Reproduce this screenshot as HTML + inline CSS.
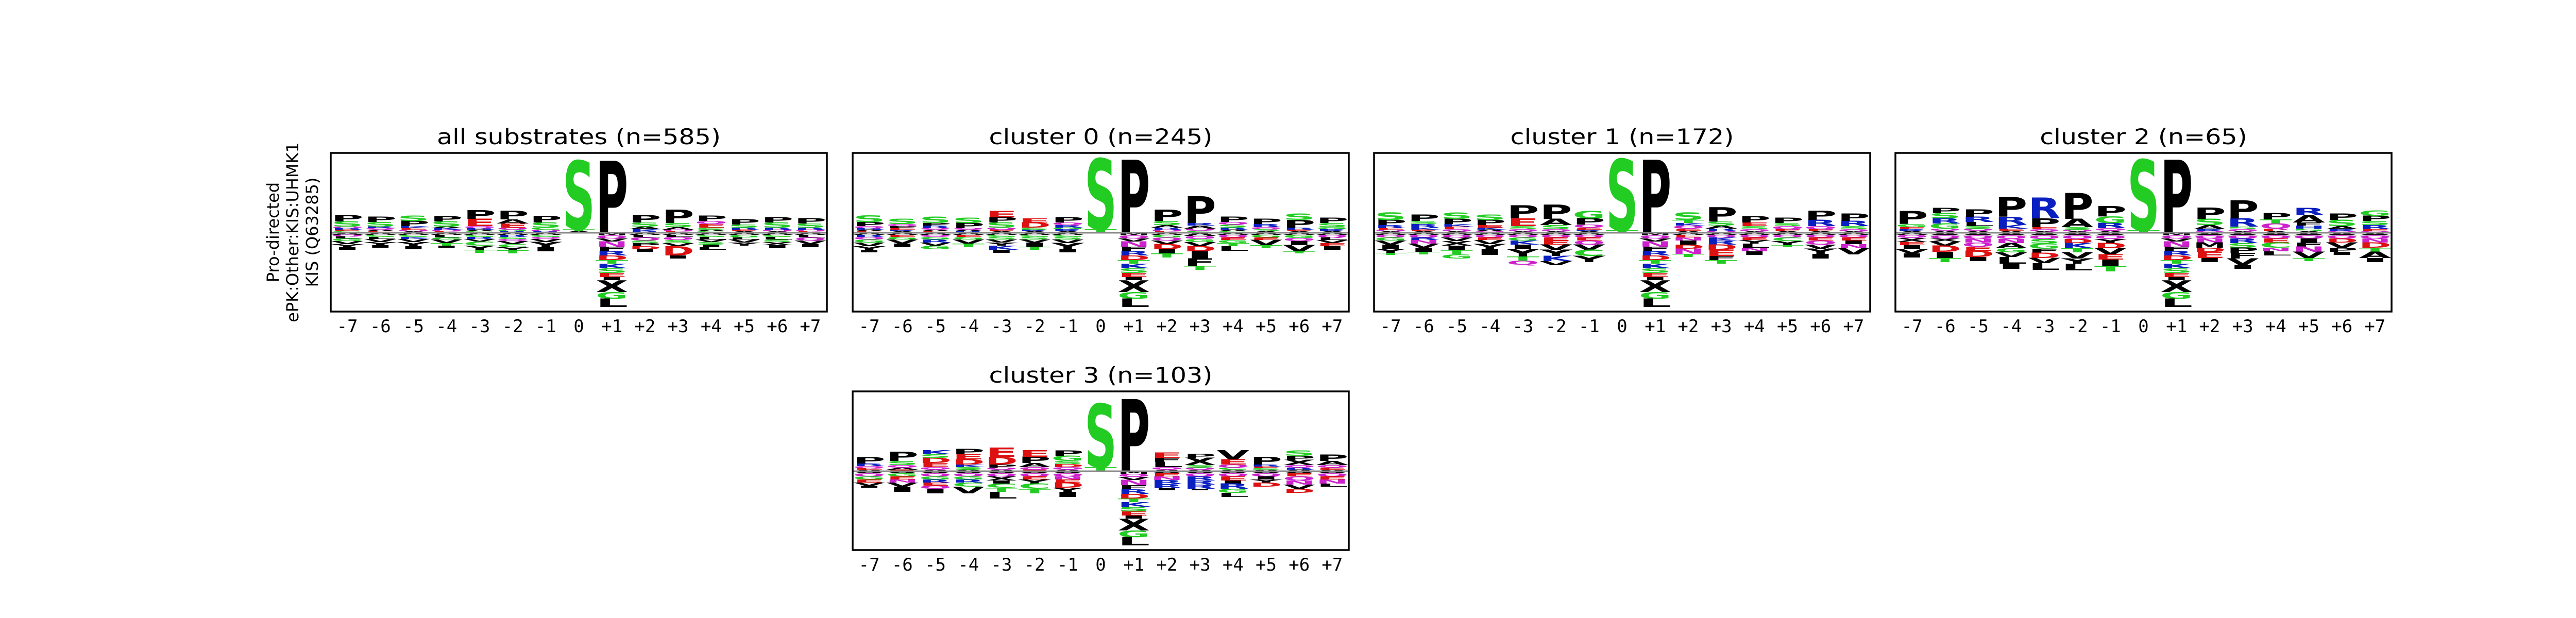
<!DOCTYPE html>
<html><head><meta charset="utf-8">
<style>
html,body{margin:0;padding:0;background:#fff;}
svg{display:block;}
</style></head>
<body>
<svg id="fig" xmlns="http://www.w3.org/2000/svg" width="5163" height="1200" viewBox="0 0 5163 1200">
<rect x="0" y="0" width="5163" height="1200" fill="#fff"/>
<g font-family="DejaVu Sans, Liberation Sans, sans-serif" font-size="32" text-anchor="middle" fill="#000">
<text transform="translate(541,451) rotate(-90)">Pro-directed</text>
<text transform="translate(579,451) rotate(-90)">ePK:Other:KIS:UHMK1</text>
<text transform="translate(617,451) rotate(-90)">KIS (Q63285)</text>
</g>
</svg>
<script>
// ---------- data ----------
const positions = ["-7","-6","-5","-4","-3","-2","-1","0","+1","+2","+3","+4","+5","+6","+7"];
const titles = ["all substrates (n=585)","cluster 0 (n=245)","cluster 1 (n=172)","cluster 2 (n=65)","cluster 3 (n=103)"];
// letter stacks: "LetterHeight" tokens, listed from the top downward; heights in centibits
const downPlus1 = "M5 Q6 V6 N10 F8 R9 D9 T7 K9 S9 E8 I6 X23 G13 L16";
const upAll = ["P12 S10 Q3 R3 E3 G3","P10 S9 R3 Q3 A3 E3","S10 P10 K4 E3 Q3 A3","P10 S10 A3 K3 Q3 E3","P17 E14 Q4 R3 A3 G3","P17 A8 E8 Q4 G3 R3","P13 S10 G4 Q3 R3","S133 T4 A3","P140","P14 S8 A5 K4 R3","P26 S8 A5 Q3 E3","P10 Q6 E7 S4 A3 G3","P10 S6 R4 E3 A3","P10 S10 R4 Q3 A3","P10 S8 R4 Q3 E3"];
const downAll = ["A4 Q3 L4 G5 V6 Y6 I5","A4 G4 L4 V6 Y6 I5","A4 G4 K4 V6 Y8 I6","A4 L5 G4 V7 T5 I4","A4 G4 R4 V5 C8 Y8 T6","A4 R4 G4 Q4 V6 C6 Y6 T6","A4 G4 Q4 V6 Y10 I8","",downPlus1,"A4 L5 Q6 S5 P6 D6 I5","A4 L4 Q6 S6 V6 D18 I6","A4 G4 L5 V5 S5 I5 L5","A4 G5 L4 V6 Y6","A4 G4 L5 S5 X6 I6","A4 L5 Q6 V7 I6"];
const upC0 = ["S13 P8 Q4 R3 A3 E3","S10 Q4 P4 E3 R3 A3","S12 P5 R5 Q3 A3 E3","S10 P10 Q3 A3 R3","E12 P10 S10 Q4 E3 A3","E8 D10 S4 R3 A3","P10 Q5 R5 G3 R4 A3","S137 T7","P142","P22 S8 A5 R4 Q3 E3","P52 R5 A6 Q4 S4","P10 Q5 S6 R4 A3 G3","P10 R6 Q4 S4 A3","S12 P15 R4 E3 A3","P10 S8 G4 R4 A3"];
const downC0 = ["A4 R4 Q5 G6 V7 Y8 I4","A4 E4 G5 V8 I7","A4 Q4 G5 R6 V6 G7","A4 E4 G5 V8 T7","A4 G4 S5 V6 Y6 K8 I6","A4 G4 S5 V6 I8 T6","A4 G4 S5 V7 Y12 I6","",downPlus1,"A4 G5 Q6 V7 D10 I8 T8","A6 Q6 G6 V8 D10 I14 F14 T8","A4 Q5 E5 G6 T6 L9","A4 G5 E5 V10 T6","A4 G6 Q6 I8 V12 T4","A4 Q5 L5 V6 E6 I7"];
const upC1 = ["S14 P10 R6 E3 Q3 A3","P12 S6 R7 K4 E3 A3","S12 P10 K5 E5 Q4 A3","S10 P10 E5 K4 A3 Q3","P25 E15 S6 Q4 A3","P28 A12 S8 Q4 A3","G14 P12 Q6 E4 R3 A3","S138 T5","P142","S14 T6 K5 Q6 E4 A4","P28 S8 A6 R4 Q4","P12 E7 S6 Q4 A3","P10 S6 Q6 E4 A3","P18 R12 Q6 E4 A3","P14 R10 S6 Q4 A3"];
const downC1 = ["A4 Q5 G6 V8 I8 Y8 T4","A4 Q5 R5 N7 V8 I8 T5","A4 Q5 V7 X9 I8 T9 G8","A4 Q5 E5 V8 Y10 I11","A4 Q5 G6 K8 I9 Y14 T8 Q8","A4 Q5 E6 E8 V10 Y12 K10 V8","A4 Q5 E6 Q8 V10 C12 Y12","",downPlus1,"A4 E5 N6 I8 D8 N10 T6","A4 Q5 K6 R8 D10 E12 F8 T7","A4 Q5 E5 Y7 L8 N7 I7","A4 Q5 C7 Y8 T4","A4 Q5 E6 Q8 V8 Y10 I9","A4 Q5 E6 I7 N8 V12"];
const upC2 = ["P25 G6 E4 R4 A3","P10 S10 R10 G10 Q4 A4","P14 R10 L8 S5 Q4 A4","P38 R15 K8 E4 A4","R40 P17 E4 Q4 A3","P50 A16 S5 Q3 A3","P20 G13 R10 Q5 A4","S137 T5","P142","P22 S12 A8 R4 Q3","P35 R16 S5 Q4 A3","P12 T8 Q10 E5 A3","R14 A14 F6 H6 S5 A3","P12 S12 A6 R4 Q3","G10 P10 S8 R8 E4 Q3"];
const downC2 = ["A4 Q6 X8 E6 I8 V8 I8","A5 Q6 X6 V8 D12 I12 T8","A5 Q6 N8 Q8 E8 D12 I8","A5 Q7 N8 A10 G8 V9 L13 I10","A5 Q7 S9 G10 F8 D10 V10 L13","A5 Q7 D8 K10 T8 V12 Y10 L13","A5 Q7 Y8 D10 V12 E10 I13 T10","",downPlus1,"A5 Q6 N8 M10 D8 E12 I8","A5 Q6 R9 S9 P10 F11 V12 I8","A5 Q6 E8 C10 N7 L8","A5 Q6 I8 F8 N10 V12 T6","A5 Q6 D8 V10 P8 I6","A5 Q6 N8 D10 T8 A12 I8"];
const upC3 = ["P12 R5 Q4 E3 A3","P18 S8 Q5 A4 E3","K8 S7 D10 E8 Q5 A3","P10 E10 D10 K5 S5 A3","E18 D15 P6 Q4 A3","E13 P12 A8 Q5 E3","P10 G10 S6 D6 Q5 A3","S123 T8","P140","E10 F8 L10 Q5 A3","P8 X14 S5 Q4 A3","V18 E10 Q6 G4 A3","P15 R4 E3 S3 A3","S10 P8 X10 Q5 R4 A3","P12 A8 Q5 E4 A3"];
const downC3 = ["A4 Q6 G6 E6 V6 I4","A4 G6 E6 N6 V8 I10","A4 Q6 G6 R6 E6 Q6 I9","A4 Q6 G6 R6 C8 V13","A4 Q6 X8 I6 C8 T8 L13","A4 Q6 E6 Y8 C10 T9","A4 Q6 N6 E6 D10 Y8 I10","",downPlus1,"A4 E6 N7 R8 R8 I4","A4 Q6 R8 R8 R8 I3","A4 Q6 E8 I6 R10 G8 L8","A4 Q6 I6 Y6 D8","A4 E6 Q8 N8 V8 D8","A4 Q6 E6 N8 L6"];
const upData = [upAll, upC0, upC1, upC2, upC3];
const downData = [downAll, downC0, downC1, downC2, downC3];

// ---------- layout ----------
const panelLeft = [642, 1655, 2667, 3679, 1655];
const panelTop = [297, 297, 297, 297, 760];
const panelW = 963, panelH = 308;
const colors = {G:"#22cc22",S:"#22cc22",T:"#22cc22",C:"#22cc22",N:"#cc22cc",Q:"#cc22cc",K:"#0a1fc0",R:"#0a1fc0",H:"#0a1fc0",D:"#dd1111",E:"#dd1111"};
const NS = "http://www.w3.org/2000/svg";
const svg = document.getElementById("fig");

function mk(tag, attrs, parent){const e=document.createElementNS(NS,tag);for(const k in attrs)e.setAttribute(k,attrs[k]);parent.appendChild(e);return e;}
function parse(s){ if(!s) return []; return s.trim().split(/\s+/).map(t=>({l:t[0],v:parseFloat(t.slice(1))})); }

function drawLetter(g, letter, xLeft, w, yTop, h){
  if(h<=0) return;
  const t = mk("text",{x:0,y:0,"font-family":"DejaVu Sans, Liberation Sans, sans-serif","font-weight":"bold","font-size":100,
    textLength:w,lengthAdjust:"spacingAndGlyphs",fill:colors[letter]||"#000",
    transform:`translate(${xLeft},${yTop+h}) scale(1,${h/72.9})`},g);
  
  
  t.textContent = letter;
}

for(let p=0;p<5;p++){
  const L=panelLeft[p], T=panelTop[p];
  const colW = panelW/positions.length;
  const base = T + panelH/2 + 1;
  const yUnit = 1; // px per centibit
  const xCol = i => L + i*colW;
  const yUp = v => base - v*yUnit;
  const yDown = v => base + v*yUnit;
  const g = mk("g",{},svg);
  
  
  const ttl = mk("text",{x:0,y:0,"text-anchor":"middle","font-family":"DejaVu Sans, Liberation Sans, sans-serif","font-size":42,fill:"#000",
    transform:`translate(${L+panelW/2},${T-17}) scale(1.17,1)`},g);
  
  
  ttl.textContent = titles[p];
  const clip = mk("clipPath",{id:"clip"+p},g);
  mk("rect",{x:L,y:T,width:panelW,height:panelH},clip);
  const lg = mk("g",{"clip-path":`url(#clip${p})`},g);
  
  
  for(let i=0;i<positions.length;i++){
    const x = xCol(i) + colW*0.01, w = colW*0.98;
    const up = parse(upData[p][i]).reverse();
    let acc = 0;
    for(const it of up){ drawLetter(lg,it.l,x,w,yUp(acc+it.v),it.v*yUnit); acc+=it.v; }
    const dn = parse(downData[p][i]);
    acc = 0;
    for(const it of dn){ drawLetter(lg,it.l,x,w,yDown(acc),it.v*yUnit); acc+=it.v; }
    const tk = mk("text",{x:xCol(i)+colW/2,y:T+panelH+40,"text-anchor":"middle","font-family":"DejaVu Sans Mono, Liberation Mono, monospace","font-size":34,fill:"#000"},g);
    
    
    tk.textContent = positions[i];
  }
  const bl = mk("line",{x1:L,x2:L+panelW,y1:base,y2:base,stroke:"#888","stroke-width":3},g);
  
  
  const fr = mk("rect",{x:L,y:T,width:panelW,height:panelH,fill:"none",stroke:"#000","stroke-width":3.5},g);
  
  
}
</script>
</body></html>
